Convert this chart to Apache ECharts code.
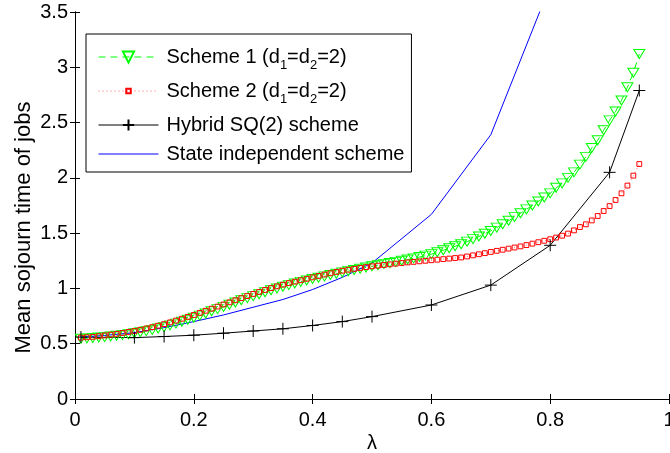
<!DOCTYPE html>
<html>
<head>
<meta charset="utf-8">
<script src="https://cdn.jsdelivr.net/npm/echarts@6/dist/echarts.min.js"></script>
<style>html,body{margin:0;padding:0;background:#fff;}#c{width:670px;height:453px;}</style>
</head>
<body>
<div id="c"></div>
<script>
// ---- data ----
var lambdaFine = [0.01,0.02,0.03,0.04,0.05,0.06,0.07,0.08,0.09,0.10,
  0.11,0.12,0.13,0.14,0.15,0.16,0.17,0.18,0.19,0.20,
  0.21,0.22,0.23,0.24,0.25,0.26,0.27,0.28,0.29,0.30,
  0.31,0.32,0.33,0.34,0.35,0.36,0.37,0.38,0.39,0.40,
  0.41,0.42,0.43,0.44,0.45,0.46,0.47,0.48,0.49,0.50,
  0.51,0.52,0.53,0.54,0.55,0.56,0.57,0.58,0.59,0.60,
  0.61,0.62,0.63,0.64,0.65,0.66,0.67,0.68,0.69,0.70,
  0.71,0.72,0.73,0.74,0.75,0.76,0.77,0.78,0.79,0.80,
  0.81,0.82,0.83,0.84,0.85,0.86,0.87,0.88,0.89,0.90,
  0.91,0.92,0.93,0.94,0.95];
var scheme1 = [0.545,0.548,0.552,0.556,0.56,0.566,0.572,0.578,0.586,0.595,
  0.604,0.614,0.625,0.637,0.65,0.666,0.682,0.699,0.717,0.735,
  0.754,0.773,0.793,0.813,0.833,0.853,0.873,0.893,0.912,0.93,
  0.948,0.966,0.983,1.0,1.015,1.03,1.045,1.059,1.072,1.085,
  1.097,1.109,1.121,1.133,1.145,1.156,1.167,1.178,1.189,1.2,
  1.21,1.22,1.23,1.24,1.25,1.261,1.272,1.284,1.297,1.31,
  1.327,1.345,1.363,1.381,1.40,1.423,1.446,1.47,1.495,1.52,
  1.55,1.58,1.612,1.645,1.68,1.715,1.75,1.786,1.823,1.86,
  1.91,1.95,2.0,2.05,2.12,2.19,2.27,2.34,2.43,2.52,
  2.60,2.70,2.82,2.95,3.12];
var scheme2 = [0.555,0.558,0.562,0.568,0.575,0.582,0.589,0.597,0.606,0.615,
  0.626,0.638,0.65,0.663,0.677,0.693,0.709,0.726,0.743,0.76,
  0.779,0.798,0.817,0.836,0.855,0.874,0.893,0.912,0.931,0.95,
  0.968,0.986,1.003,1.019,1.034,1.048,1.061,1.074,1.087,1.10,
  1.113,1.125,1.137,1.149,1.16,1.169,1.177,1.185,1.193,1.20,
  1.206,1.212,1.218,1.224,1.23,1.235,1.24,1.245,1.25,1.255,
  1.26,1.265,1.27,1.275,1.28,1.289,1.299,1.309,1.319,1.33,
  1.34,1.35,1.36,1.37,1.38,1.392,1.405,1.418,1.431,1.445,
  1.46,1.477,1.496,1.525,1.555,1.58,1.615,1.655,1.70,1.745,
  1.80,1.86,1.93,2.02,2.125];
var lambdaHybrid = [0.01,0.1,0.15,0.2,0.25,0.3,0.35,0.4,0.45,0.5,0.6,0.7,0.8,0.9,0.95];
var hybrid = [0.56,0.555,0.565,0.577,0.595,0.615,0.635,0.665,0.70,0.745,0.85,1.03,1.39,2.05,2.79];
var lambdaIndep = [0.01,0.05,0.1,0.15,0.2,0.25,0.3,0.35,0.4,0.45,0.5,0.6,0.7,0.8];
var indep = [0.56,0.575,0.60,0.645,0.70,0.76,0.83,0.90,0.99,1.10,1.23,1.67,2.39,3.74];
var seriesNames = ['Scheme 1 (d1=d2=2)','Scheme 2 (d1=d2=2)','Hybrid SQ(2) scheme','State independent scheme'];
var legendTexts = [
  '{n|Scheme 1 (d}{s|1}{n|=d}{s|2}{n|=2)}',
  '{n|Scheme 2 (d}{s|1}{n|=d}{s|2}{n|=2)}',
  '{m|Hybrid SQ(2) scheme}',
  '{m|State independent scheme}'
];
var xTicks = {min: 0, max: 1, interval: 0.2};
var yTicks = {min: 0, max: 3.5, interval: 0.5};

function pairs(xs, ys){ return xs.map(function(x,i){ return [x, ys[i]]; }); }

var FONT = 'Liberation Sans, Arial, Helvetica, sans-serif';
var chart = echarts.init(document.getElementById('c'), null, {renderer: 'canvas'});

function axisCommon(showLabel){
  return {
    type: 'value',
    axisLine: {show: true, lineStyle: {color: '#000', width: 1}},
    axisTick: {show: true, inside: true, length: 5, lineStyle: {color: '#000', width: 1}},
    axisLabel: {show: showLabel, color: '#000', fontSize: 20, fontFamily: FONT, hideOverlap: false},
    splitLine: {show: false}
  };
}

var xBottom = Object.assign(axisCommon(true), xTicks, {position: 'bottom', name: 'λ', nameLocation: 'middle', nameGap: 34,
  nameMoveOverlap: false,
  nameTextStyle: {color: '#000', fontSize: 20, fontFamily: FONT}});
xBottom.axisLabel.margin = 11;
var xTop = Object.assign(axisCommon(false), xTicks, {position: 'top'});
var yLeft = Object.assign(axisCommon(true), yTicks, {position: 'left', name: 'Mean sojourn time of jobs', nameLocation: 'middle', nameGap: 40,
  nameMoveOverlap: false,
  nameTextStyle: {color: '#000', fontSize: 22, fontFamily: FONT, padding: [0, 44, 0, 0]}});
yLeft.axisLabel.margin = 7;
var yRight = Object.assign(axisCommon(false), yTicks, {position: 'right'});

var legendMap = {};
seriesNames.forEach(function(n,i){ legendMap[n] = legendTexts[i]; });

var option = {
  animation: false,
  backgroundColor: '#fff',
  grid: {left: 75, right: 1, top: 12, bottom: 54, containLabel: false, outerBoundsMode: 'none'},
  xAxis: [xBottom, xTop],
  yAxis: [yLeft, yRight],
  legend: {
    orient: 'vertical',
    left: 86, top: 34,
    padding: [13, 7, 8, 12],
    itemGap: 9,
    itemWidth: 60,
    itemHeight: 14,
    borderColor: '#000', borderWidth: 1, borderRadius: 0,
    backgroundColor: '#fff',
    data: [
      {name: seriesNames[0], lineStyle: {color: '#00ff00', width: 1, type: [7, 5]}},
      {name: seriesNames[1], lineStyle: {color: '#ff6060', width: 1, type: [1, 3]}},
      {name: seriesNames[2], lineStyle: {color: '#000000', width: 1}},
      {name: seriesNames[3], lineStyle: {color: '#0000ff', width: 1}, itemStyle: {opacity: 0}}
    ],
    formatter: function(name){ return legendMap[name]; },
    textStyle: {
      color: '#000', fontSize: 20, fontFamily: FONT, padding: [0,0,0,3],
      rich: {
        n: {color: '#000', fontSize: 20, fontFamily: FONT, lineHeight: 30},
        s: {color: '#000', fontSize: 13, fontFamily: FONT, lineHeight: 15, verticalAlign: 'bottom'},
        m: {color: '#000', fontSize: 20, fontFamily: FONT, lineHeight: 20}
      }
    }
  },
  series: [
    {
      name: seriesNames[0], type: 'line',
      data: pairs(lambdaFine, scheme1),
      symbol: 'triangle', symbolRotate: 180, symbolSize: [11, 9],
      itemStyle: {color: 'rgba(0,0,0,0)', borderColor: '#00ff00', borderWidth: 1},
      lineStyle: {color: '#00ff00', width: 1, type: [7, 5]},
      emphasis: {disabled: true}
    },
    {
      name: seriesNames[1], type: 'line',
      data: pairs(lambdaFine, scheme2),
      symbol: 'path://M0,0M10,10M3,3L7,3L7,7L3,7Z', symbolSize: 12,
      itemStyle: {color: 'rgba(0,0,0,0)', borderColor: '#ff0000', borderWidth: 1},
      lineStyle: {color: '#ff6060', width: 1, type: [1, 3]},
      emphasis: {disabled: true}
    },
    {
      name: seriesNames[2], type: 'line',
      data: pairs(lambdaHybrid, hybrid),
      symbol: 'path://M0,5L10,5M5,0L5,10', symbolSize: 12,
      itemStyle: {color: 'rgba(0,0,0,0)', borderColor: '#000000', borderWidth: 1},
      lineStyle: {color: '#000000', width: 1},
      emphasis: {disabled: true}
    },
    {
      name: seriesNames[3], type: 'line',
      data: pairs(lambdaIndep, indep),
      symbol: 'none', showSymbol: false,
      itemStyle: {color: '#0000ff'},
      lineStyle: {color: '#0000ff', width: 1},
      emphasis: {disabled: true}
    }
  ]
};
chart.setOption(option);
</script>
</body>
</html>
